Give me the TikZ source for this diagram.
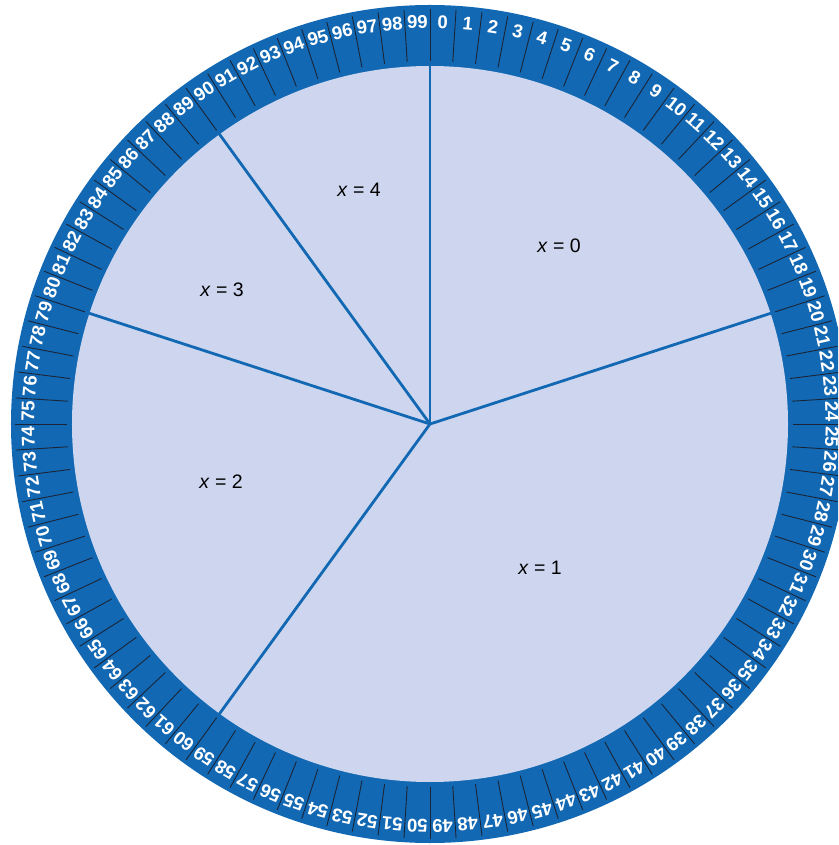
\documentclass[tikz,border=0pt]{standalone}
\usepackage{fontspec}
\setmainfont{Liberation Sans}
\definecolor{band}{HTML}{1268B3}
\definecolor{disc}{HTML}{CDD6EE}
\definecolor{tickc}{HTML}{1B2436}
\begin{document}
\begin{tikzpicture}[x=1pt,y=1pt,
  sector/.style={draw=band, line width=2.8pt},
  ticker/.style={draw=tickc, line width=0.9pt},
  numlab/.style={text=white, font=\bfseries\fontsize{18.5}{18.5}\selectfont, inner sep=0pt},
  xlab/.style={font=\fontsize{19.5}{19.5}\selectfont, text=black, inner sep=0pt}]
\useasboundingbox (-430,-421) rectangle (408,424);
\clip (-430,-421) rectangle (408,424);
\fill[white] (-430,-421) rectangle (408,424);
\fill[band] (0,0) circle (419);
\fill[disc] (0,0) circle (358);
\coordinate (c) at (0,0);
\foreach \v in {0,20,60,80,90} {\coordinate (s\v) at ({90-3.6*\v}:358.5);}
\foreach \v in {0,...,99} {
  \draw[ticker] ({90-3.6*\v}:363) -- ({90-3.6*\v}:415);
  \node[numlab, rotate={-3.6*(\v+0.5)}] (n\v) at ({90-3.6*(\v+0.5)}:402) {\v};
}
\foreach \v in {0,20,60,80,90} {\draw[sector] (c) -- (s\v);}
\node[xlab] (x0) at (129,178) {\textit{x} = 0};
\node[xlab] (x4) at (-71,234) {\textit{x} = 4};
\node[xlab] (x3) at (-208,134) {\textit{x} = 3};
\node[xlab] (x2) at (-209,-58) {\textit{x} = 2};
\node[xlab] (x1) at (110,-144) {\textit{x} = 1};
\end{tikzpicture}
\end{document}
